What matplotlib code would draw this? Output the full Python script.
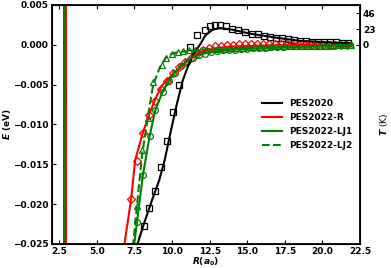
import matplotlib
matplotlib.use("Agg")
import matplotlib.pyplot as plt

plt.rcParams['font.family'] = 'DejaVu Sans'
plt.rcParams['font.weight'] = 'bold'
plt.rcParams['mathtext.fontset'] = 'custom'
plt.rcParams['mathtext.it'] = 'DejaVu Sans:bold:italic'
plt.rcParams['mathtext.rm'] = 'DejaVu Sans:bold'

KB = 8.617333e-5  # eV per K

# PES2020 (black)
r_2020 = [2.84, 2.85, 4.0, 6.5, 7.71, 8.11, 8.67, 9.15, 9.51, 9.89, 10.3, 10.71, 11.0, 11.44,
          11.89, 12.22, 12.7, 13.2, 14.0, 15.2, 16.9, 18.5, 20.5, 21.8]
e_2020 = [0.01, -0.04, -0.2, -0.06, -0.025, -0.0226, -0.0195, -0.0170, -0.0145, -0.0111,
          -0.0076, -0.0045, -0.0030, -0.0011, 0.0001, 0.0012, 0.0019, 0.0021, 0.0019, 0.0014,
          0.0009, 0.0005, 0.0003, 0.0002]
r_2020_pts = [8.15, 8.49, 8.89, 9.27, 9.67, 10.07, 10.49, 11.22, 11.67, 12.2, 12.5, 12.85, 13.2,
              13.6, 14.0, 14.4, 14.85, 15.3, 15.7, 16.1, 16.5, 16.9, 17.3, 17.7, 18.1, 18.5,
              18.9, 19.3, 19.7, 20.1, 20.5, 20.9, 21.3, 21.7]
e_2020_pts = [-0.0228, -0.0205, -0.0183, -0.0153, -0.0121, -0.0084, -0.0051, -0.0003, 0.0012,
              0.0019, 0.0024, 0.0025, 0.0025, 0.0023, 0.0020, 0.0019, 0.0016, 0.0014, 0.0013,
              0.0011, 0.0010, 0.0009, 0.0008, 0.0007, 0.0006, 0.0005, 0.0005, 0.0004, 0.0004,
              0.0003, 0.0003, 0.0003, 0.0002, 0.0002]

# PES2022-R (red)
r_R = [2.95, 2.96, 4.0, 6.0, 6.84, 7.29, 7.55, 8.07, 8.51, 8.89, 9.33, 9.89, 10.4, 10.89,
       11.44, 12.0, 13.0, 14.0, 16.0, 19.0, 22.0]
e_R = [0.01, -0.04, -0.2, -0.06, -0.025, -0.0193, -0.0145, -0.0110, -0.0086, -0.0068, -0.0051,
       -0.0040, -0.0031, -0.0023, -0.0014, -0.0008, -0.0004, -0.0002, -0.0001, 0.0, 0.0]
r_R_pts = [7.29, 7.65, 8.05, 8.45, 8.85, 9.25, 9.65, 10.05, 10.45, 10.85, 11.25, 11.65, 12.05,
           12.45, 12.85, 13.25, 13.65, 14.05, 14.45, 14.85, 15.25, 15.65, 16.05, 16.45, 16.85,
           17.25, 17.65, 18.05, 18.45, 18.85, 19.25, 19.65, 20.05, 20.45, 20.85, 21.25, 21.65]
e_R_pts = [-0.0193, -0.0146, -0.0111, -0.0088, -0.0070, -0.0056, -0.0045, -0.0036, -0.0028,
           -0.0022, -0.0016, -0.0011, -0.0007, -0.0004, -0.0002, -0.0001, 0.0, 0.0, 0.0001,
           0.0001, 0.0001, 0.0001, 0.0001, 0.0001, 0.0001, 0.0001, 0.0001, 0.0, 0.0, 0.0, 0.0,
           0.0, 0.0, 0.0, 0.0, 0.0, 0.0]

# PES2022-LJ1 (green solid)
r_LJ1 = [2.84, 2.85, 4.0, 6.5, 7.49, 7.67, 8.07, 8.51, 8.89, 9.37, 9.9, 10.5, 11.2, 12.0, 13.0,
         14.0, 15.0, 16.5, 18.0, 20.0, 22.0]
e_LJ1 = [0.01, -0.04, -0.2, -0.06, -0.025, -0.0223, -0.0163, -0.0115, -0.0082, -0.0059,
         -0.0042, -0.0028, -0.0017, -0.0011, -0.0008, -0.0006, -0.0005, -0.0004, -0.0003,
         -0.0001, 0.0]
r_LJ1_pts = [7.67, 8.07, 8.51, 8.89, 9.37, 9.8, 10.2, 10.6, 11.0, 11.4, 11.8, 12.2, 12.6, 13.0,
             13.4, 13.8, 14.2, 14.6, 15.0, 15.4, 15.8, 16.2, 16.6, 17.0, 17.4, 17.8, 18.2,
             18.6, 19.0, 19.4, 19.8, 20.2, 20.6, 21.0, 21.4, 21.8]
e_LJ1_pts = [-0.0223, -0.0163, -0.0115, -0.0082, -0.0059, -0.0046, -0.0035, -0.0027, -0.0021,
             -0.0016, -0.0013, -0.0011, -0.0009, -0.0008, -0.0007, -0.0006, -0.0006, -0.0005,
             -0.0005, -0.0004, -0.0004, -0.0004, -0.0003, -0.0003, -0.0003, -0.0002, -0.0002,
             -0.0002, -0.0002, -0.0001, -0.0001, -0.0001, -0.0001, 0.0, 0.0, 0.0]

# PES2022-LJ2 (green dashed)
r_LJ2 = [2.84, 2.85, 4.0, 6.5, 7.42, 7.67, 8.0, 8.4, 8.75, 9.2, 9.6, 10.0, 10.5, 11.0, 11.5,
         12.0, 13.0, 14.0, 16.0, 18.0, 22.0]
e_LJ2 = [0.01, -0.04, -0.2, -0.06, -0.025, -0.0202, -0.0140, -0.0090, -0.0050, -0.0028,
         -0.0016, -0.0011, -0.0009, -0.0008, -0.0007, -0.0006, -0.0005, -0.0004, -0.0003,
         -0.0002, 0.0]
r_LJ2_pts = [7.67, 8.0, 8.4, 8.77, 9.33, 9.6, 10.0, 10.4, 10.75, 11.1, 11.5, 11.9, 12.3, 12.7,
             13.1, 13.5, 13.9, 14.3, 14.7, 15.1, 15.5, 15.9, 16.3, 16.7, 17.1, 17.5, 17.9,
             18.3, 18.7, 19.1, 19.5, 19.9, 20.3, 20.7, 21.1, 21.5, 21.9]
e_LJ2_pts = [-0.0202, -0.0132, -0.0092, -0.0047, -0.0025, -0.0016, -0.0011, -0.0009, -0.0008,
             -0.0007, -0.0007, -0.0006, -0.0006, -0.0005, -0.0005, -0.0005, -0.0004, -0.0004,
             -0.0004, -0.0003, -0.0003, -0.0003, -0.0003, -0.0002, -0.0002, -0.0002, -0.0002,
             -0.0002, -0.0001, -0.0001, -0.0001, -0.0001, -0.0001, 0.0, 0.0, 0.0, 0.0]

t_ticks = [0, 23, 46]

fig = plt.figure(figsize=(3.91, 2.68), dpi=100)
ax = fig.add_axes([0.132, 0.0896, 0.789, 0.8918])

ms = 4.2
mew = 0.9
ax.plot(r_2020_pts, e_2020_pts, 's', color='black', mfc='none', ms=ms, mew=mew)
ax.plot(r_R_pts, e_R_pts, 'D', color='red', mfc='none', ms=ms * 0.9, mew=mew)
ax.plot(r_LJ1_pts, e_LJ1_pts, 'o', color='green', mfc='none', ms=ms, mew=mew)
ax.plot(r_LJ2_pts, e_LJ2_pts, '^', color='green', mfc='none', ms=ms, mew=mew)

ax.plot(r_2020, e_2020, '-', color='black', lw=1.5, label='PES2020')
ax.plot(r_R, e_R, '-', color='red', lw=1.5, label='PES2022-R')
ax.plot(r_LJ1, e_LJ1, '-', color='green', lw=1.5, label='PES2022-LJ1')
ax.plot(r_LJ2, e_LJ2, '--', color='green', lw=1.5, label='PES2022-LJ2')

ax.set_xlim(2.0, 22.5)
ax.set_ylim(-0.025, 0.005)
ax.set_xticks([2.5, 5.0, 7.5, 10.0, 12.5, 15.0, 17.5, 20.0, 22.5])
ax.set_yticks([-0.025, -0.020, -0.015, -0.010, -0.005, 0.000, 0.005])
ax.set_yticklabels(['\u22120.025', '\u22120.020', '\u22120.015', '\u22120.010',
                    '\u22120.005', '0.000', '0.005'])
ax.tick_params(direction='in', labelsize=6.5, top=True, width=0.8, length=3, pad=2)
for s in ax.spines.values():
    s.set_linewidth(1.3)

ax.set_xlabel(r'$R(a_0)$', fontsize=6.5, labelpad=0)
ax.set_ylabel(r'$E$ (eV)', fontsize=6.5, fontweight='bold', labelpad=0)

ax2 = ax.twinx()
ax2.set_ylim(-0.025 / KB, 0.005 / KB)
ax2.set_yticks(t_ticks)
ax2.tick_params(direction='in', labelsize=6.5, width=0.8, length=3, pad=2)
ax2.set_ylabel(r'$T$ (K)', fontsize=6.5, fontweight='normal', labelpad=2)

ax.legend(loc='center right', frameon=False, fontsize=6.5, handlelength=2.2,
          handletextpad=0.8, labelspacing=0.55)

fig.savefig('out.png', dpi=100)
